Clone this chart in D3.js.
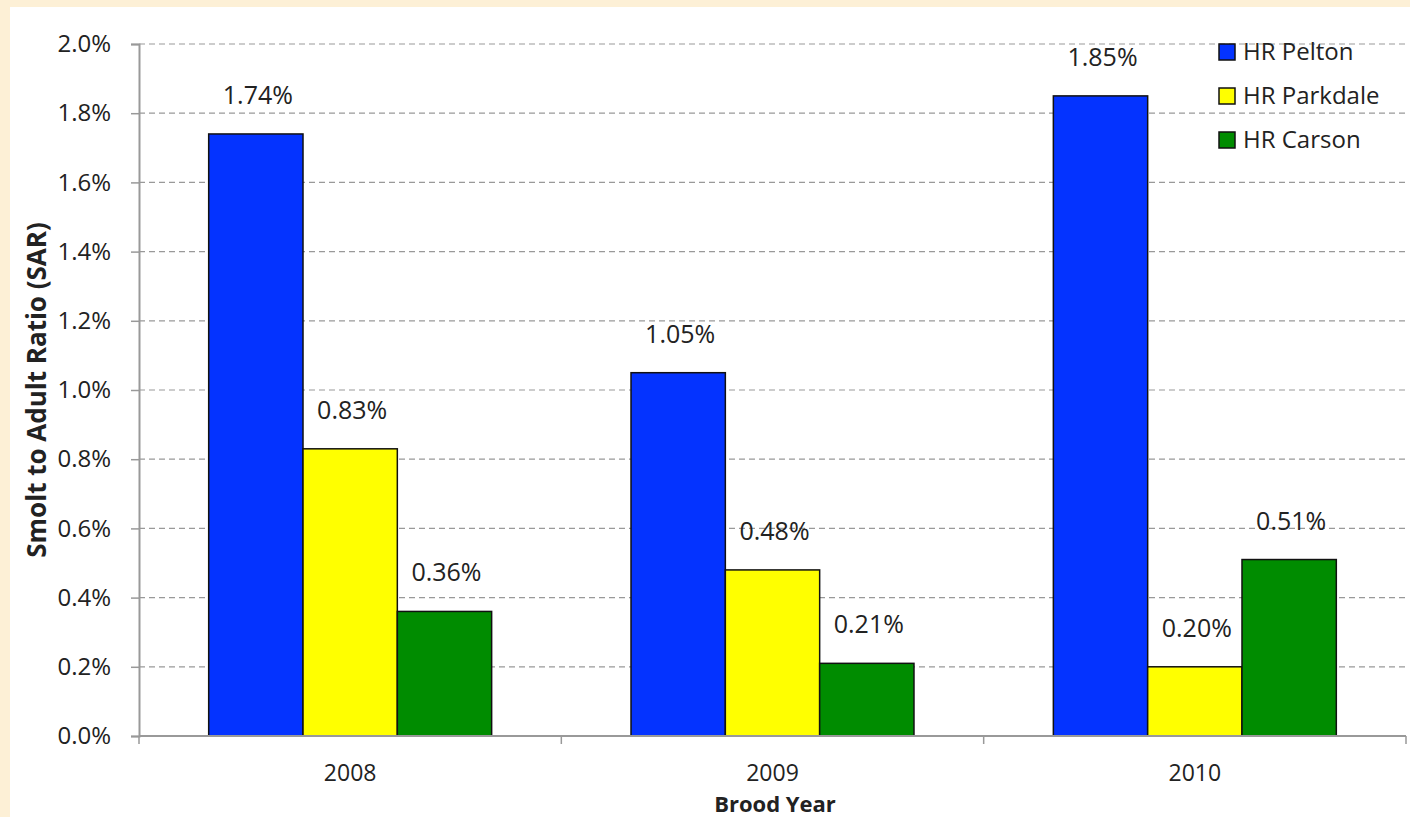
<!DOCTYPE html>
<html>
<head>
  <meta charset="utf-8">
  <title>Smolt to Adult Ratio</title>
  <script src="https://d3js.org/d3.v7.min.js"></script>
  <style>
    body { margin: 0; background: #fdf0d6; }
    svg { display: block; }
    text { font-family: "Open Sans", Lato, sans-serif; fill: #222; }
    .tick text { font-family: "Open Sans", Lato, sans-serif; font-size: 24px; fill: #222; }
    .grid line { stroke: #999; stroke-dasharray: 6,4; stroke-width: 1.2; }
  </style>
</head>
<body>
<svg id="chart" width="1410" height="817"></svg>
<script>
  // data
  var years = ["2008", "2009", "2010"];
  var seriesNames = ["HR Pelton", "HR Parkdale", "HR Carson"];
  var pelton = [1.74, 1.05, 1.85];
  var parkdale = [0.83, 0.48, 0.20];
  var carson = [0.36, 0.21, 0.51];
  var yTicks = [0, 0.2, 0.4, 0.6, 0.8, 1.0, 1.2, 1.4, 1.6, 1.8, 2.0];
  var colors = ["#0433ff", "#ffff00", "#008c00"];

  var allSeries = [pelton, parkdale, carson];

  var svg = d3.select("#chart");
  // white panel
  svg.append("rect").attr("x", 10).attr("y", 7).attr("width", 1400).attr("height", 810).attr("fill", "#fff");

  var margin = {left: 139, right: 4, top: 44, bottom: 81};
  var width = 1410 - margin.left - margin.right,
      height = 817 - margin.top - margin.bottom;
  var g = svg.append("g").attr("transform", "translate(" + margin.left + "," + margin.top + ")");

  var x0 = d3.scaleBand().domain(years).range([0, width]).paddingInner(0.33).paddingOuter(0.165);
  var x1 = d3.scaleBand().domain(seriesNames).range([0, x0.bandwidth()]);
  var y = d3.scaleLinear().domain([0, 2.0]).range([height, 0]);

  // gridlines
  g.append("g").attr("class", "grid")
    .selectAll("line").data(yTicks.slice(1)).join("line")
      .attr("x1", 0).attr("x2", width)
      .attr("y1", d => y(d)).attr("y2", d => y(d));

  // y axis
  var yAxis = g.append("g")
    .call(d3.axisLeft(y).tickValues(yTicks).tickFormat(d => d.toFixed(1) + "%").tickSize(8).tickPadding(20));
  yAxis.select(".domain").attr("stroke", "#999").attr("stroke-width", 2);
  yAxis.selectAll(".tick line").attr("stroke", "#999").attr("stroke-width", 1.5);

  // bars
  var groups = g.selectAll(".year").data(years).join("g")
      .attr("class", "year")
      .attr("transform", d => "translate(" + x0(d) + ",0)");

  groups.selectAll("rect")
    .data((d, i) => seriesNames.map((s, k) => ({name: s, value: allSeries[k][i], k: k})))
    .join("rect")
      .attr("x", d => x1(d.name))
      .attr("y", d => y(d.value))
      .attr("width", x1.bandwidth())
      .attr("height", d => height - y(d.value))
      .attr("fill", d => colors[d.k])
      .attr("stroke", "#111")
      .attr("stroke-width", 1.5);

  groups.selectAll("text.lbl")
    .data((d, i) => seriesNames.map((s, k) => ({name: s, value: allSeries[k][i], k: k})))
    .join("text")
      .attr("class", "lbl")
      .attr("x", d => x1(d.name) + x1.bandwidth() / 2 + 2)
      .attr("y", d => y(d.value) - 30)
      .attr("text-anchor", "middle")
      .style("font-size", "25px")
      .text(d => d.value.toFixed(2) + "%");

  // x axis with category boundary ticks
  var xAxis = g.append("g").attr("transform", "translate(0," + height + ")");
  xAxis.append("line").attr("x1", 0).attr("x2", width).attr("stroke", "#999").attr("stroke-width", 2);
  var bounds = years.map(d => x0(d) - x0.step() * x0.paddingInner() / 2);
  bounds.push(width);
  bounds[0] = 0;
  xAxis.selectAll("line.bt").data(bounds).join("line")
      .attr("class", "bt")
      .attr("x1", d => d).attr("x2", d => d)
      .attr("y1", 0).attr("y2", 8)
      .attr("stroke", "#999").attr("stroke-width", 1.5);
  xAxis.selectAll("text").data(years).join("text")
      .attr("x", d => x0(d) + x0.bandwidth() / 2)
      .attr("y", 45)
      .attr("text-anchor", "middle")
      .style("font-size", "23px")
      .text(d => d);

  // axis titles
  svg.append("text")
    .attr("x", 775).attr("y", 812)
    .attr("text-anchor", "middle")
    .style("font-size", "22px").style("font-weight", "bold")
    .text("Brood Year");
  svg.append("text")
    .attr("transform", "translate(46," + (margin.top + height / 2) + ") rotate(-90)")
    .attr("text-anchor", "middle")
    .style("font-size", "26px").style("font-weight", "bold")
    .text("Smolt to Adult Ratio (SAR)");

  // legend
  var legend = svg.append("g").attr("transform", "translate(1219,44)");
  var items = legend.selectAll("g").data(seriesNames).join("g")
      .attr("transform", (d, i) => "translate(0," + i * 44 + ")");
  items.append("rect")
      .attr("width", 16).attr("height", 16)
      .attr("fill", (d, i) => colors[i])
      .attr("stroke", "#111").attr("stroke-width", 1.5);
  items.append("text")
      .attr("x", 24).attr("y", 16)
      .style("font-size", "24px")
      .text(d => d);
</script>
</body>
</html>
